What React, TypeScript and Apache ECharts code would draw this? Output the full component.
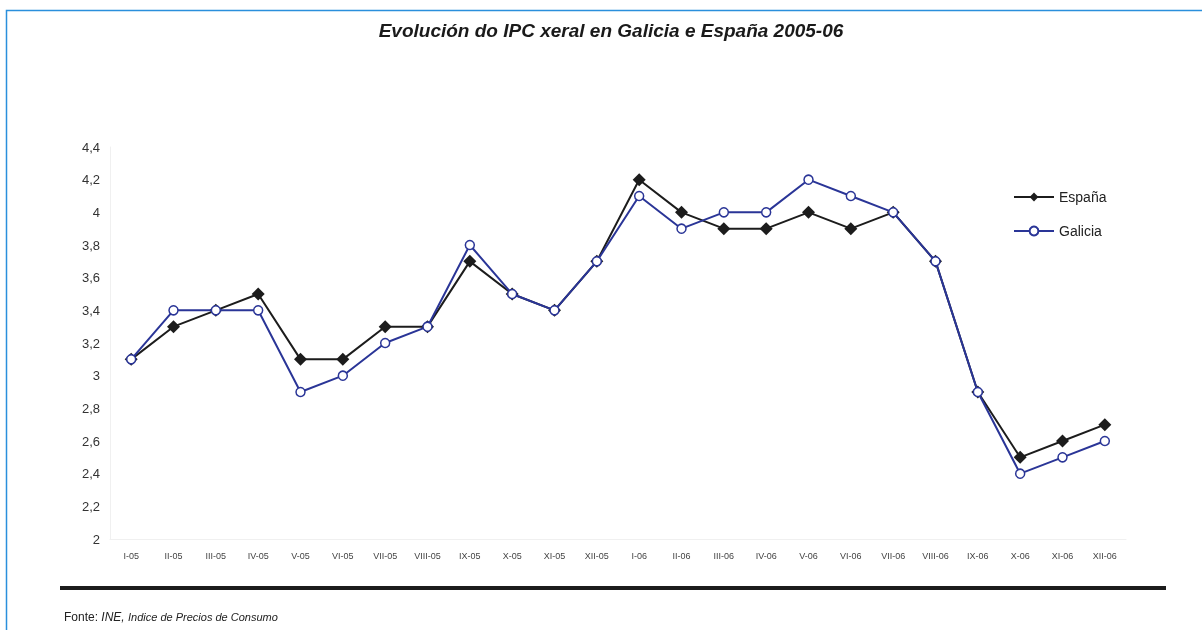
import React, { useEffect, useRef } from "react";
import * as echarts from "echarts";

const categories = ["I-05","II-05","III-05","IV-05","V-05","VI-05","VII-05","VIII-05","IX-05","X-05","XI-05","XII-05","I-06","II-06","III-06","IV-06","V-06","VI-06","VII-06","VIII-06","IX-06","X-06","XI-06","XII-06"];
const espana = [3.1,3.3,3.4,3.5,3.1,3.1,3.3,3.3,3.7,3.5,3.4,3.7,4.2,4.0,3.9,3.9,4.0,3.9,4.0,3.7,2.9,2.5,2.6,2.7];
const galicia = [3.1,3.4,3.4,3.4,2.9,3.0,3.2,3.3,3.8,3.5,3.4,3.7,4.1,3.9,4.0,4.0,4.2,4.1,4.0,3.7,2.9,2.4,2.5,2.6];
const title = "Evolución do IPC xeral en Galicia e España 2005-06";

export default function App() {
  const ref = useRef<HTMLDivElement>(null);
  useEffect(() => {
    if (!ref.current) return;
    const chart = echarts.init(ref.current, null, { renderer: "svg" });
    const font = "Liberation Sans, Arial, sans-serif";
    chart.setOption({
      animation: false,
      textStyle: { fontFamily: font },
      title: {
        text: title,
        left: 606,
        textAlign: "center",
        top: 16,
        textStyle: { fontSize: 19, fontWeight: "bold", fontStyle: "italic", color: "#1a1a1a", fontFamily: font },
      },
      legend: {
        orient: "vertical",
        left: 1008,
        top: 185,
        itemWidth: 40,
        itemHeight: 11,
        itemGap: 20,
        textStyle: { fontSize: 14, color: "#222", fontFamily: font },
        data: ["España", "Galicia"],
      },
      grid: { left: 110, right: 76, top: 147, bottom: 91, containLabel: false },
      xAxis: {
        type: "category",
        data: categories,
        boundaryGap: true,
        axisLine: { show: true, lineStyle: { color: "#f0f0f0", width: 1 } },
        axisTick: { show: false },
        axisLabel: { fontSize: 9, color: "#444", margin: 12, interval: 0, fontFamily: font },
        splitLine: { show: false },
      },
      yAxis: {
        type: "value",
        min: 2,
        max: 4.4,
        interval: 0.2,
        axisLine: { show: true, lineStyle: { color: "#f0f0f0", width: 1 } },
        axisTick: { show: false },
        splitLine: { show: false },
        axisLabel: {
          fontSize: 13,
          color: "#333",
          margin: 10,
          fontFamily: font,
          formatter: (v: number) => String(Math.round(v * 10) / 10).replace(".", ","),
        },
      },
      series: [
        {
          name: "España",
          type: "line",
          data: espana,
          symbol: "diamond",
          symbolSize: 13,
          lineStyle: { color: "#1c1c1c", width: 2 },
          itemStyle: { color: "#1c1c1c" },
          z: 2,
        },
        {
          name: "Galicia",
          type: "line",
          data: galicia,
          symbol: "circle",
          symbolSize: 9,
          lineStyle: { color: "#2a3597", width: 2 },
          itemStyle: { color: "#ffffff", borderColor: "#2a3597", borderWidth: 1.5 },
          z: 3,
        },
      ],
      graphic: [
        {
          type: "rect",
          shape: { x: 6.5, y: 10.5, width: 1300, height: 700 },
          style: { fill: "none", stroke: "#2a8fdc", lineWidth: 1.5 },
          silent: true,
        },
        {
          type: "line",
          shape: { x1: 60, y1: 588, x2: 1166, y2: 588 },
          style: { stroke: "#1c1c1c", lineWidth: 4 },
          silent: true,
        },
        {
          type: "text",
          x: 64,
          y: 611,
          style: {
            text: "{a|Fonte: }{b|INE, }{c|Indice de Precios de Consumo}",
            rich: {
              a: { fontSize: 12, fontFamily: font, fill: "#222" },
              b: { fontSize: 12, fontFamily: font, fontStyle: "italic", fill: "#222" },
              c: { fontSize: 11, fontFamily: font, fontStyle: "italic", fill: "#222" },
            },
          },
          silent: true,
        },
      ],
    });
    return () => chart.dispose();
  }, []);
  return <div ref={ref} style={{ position: "fixed", left: 0, top: 0, width: 1202, height: 630 }} />;
}
